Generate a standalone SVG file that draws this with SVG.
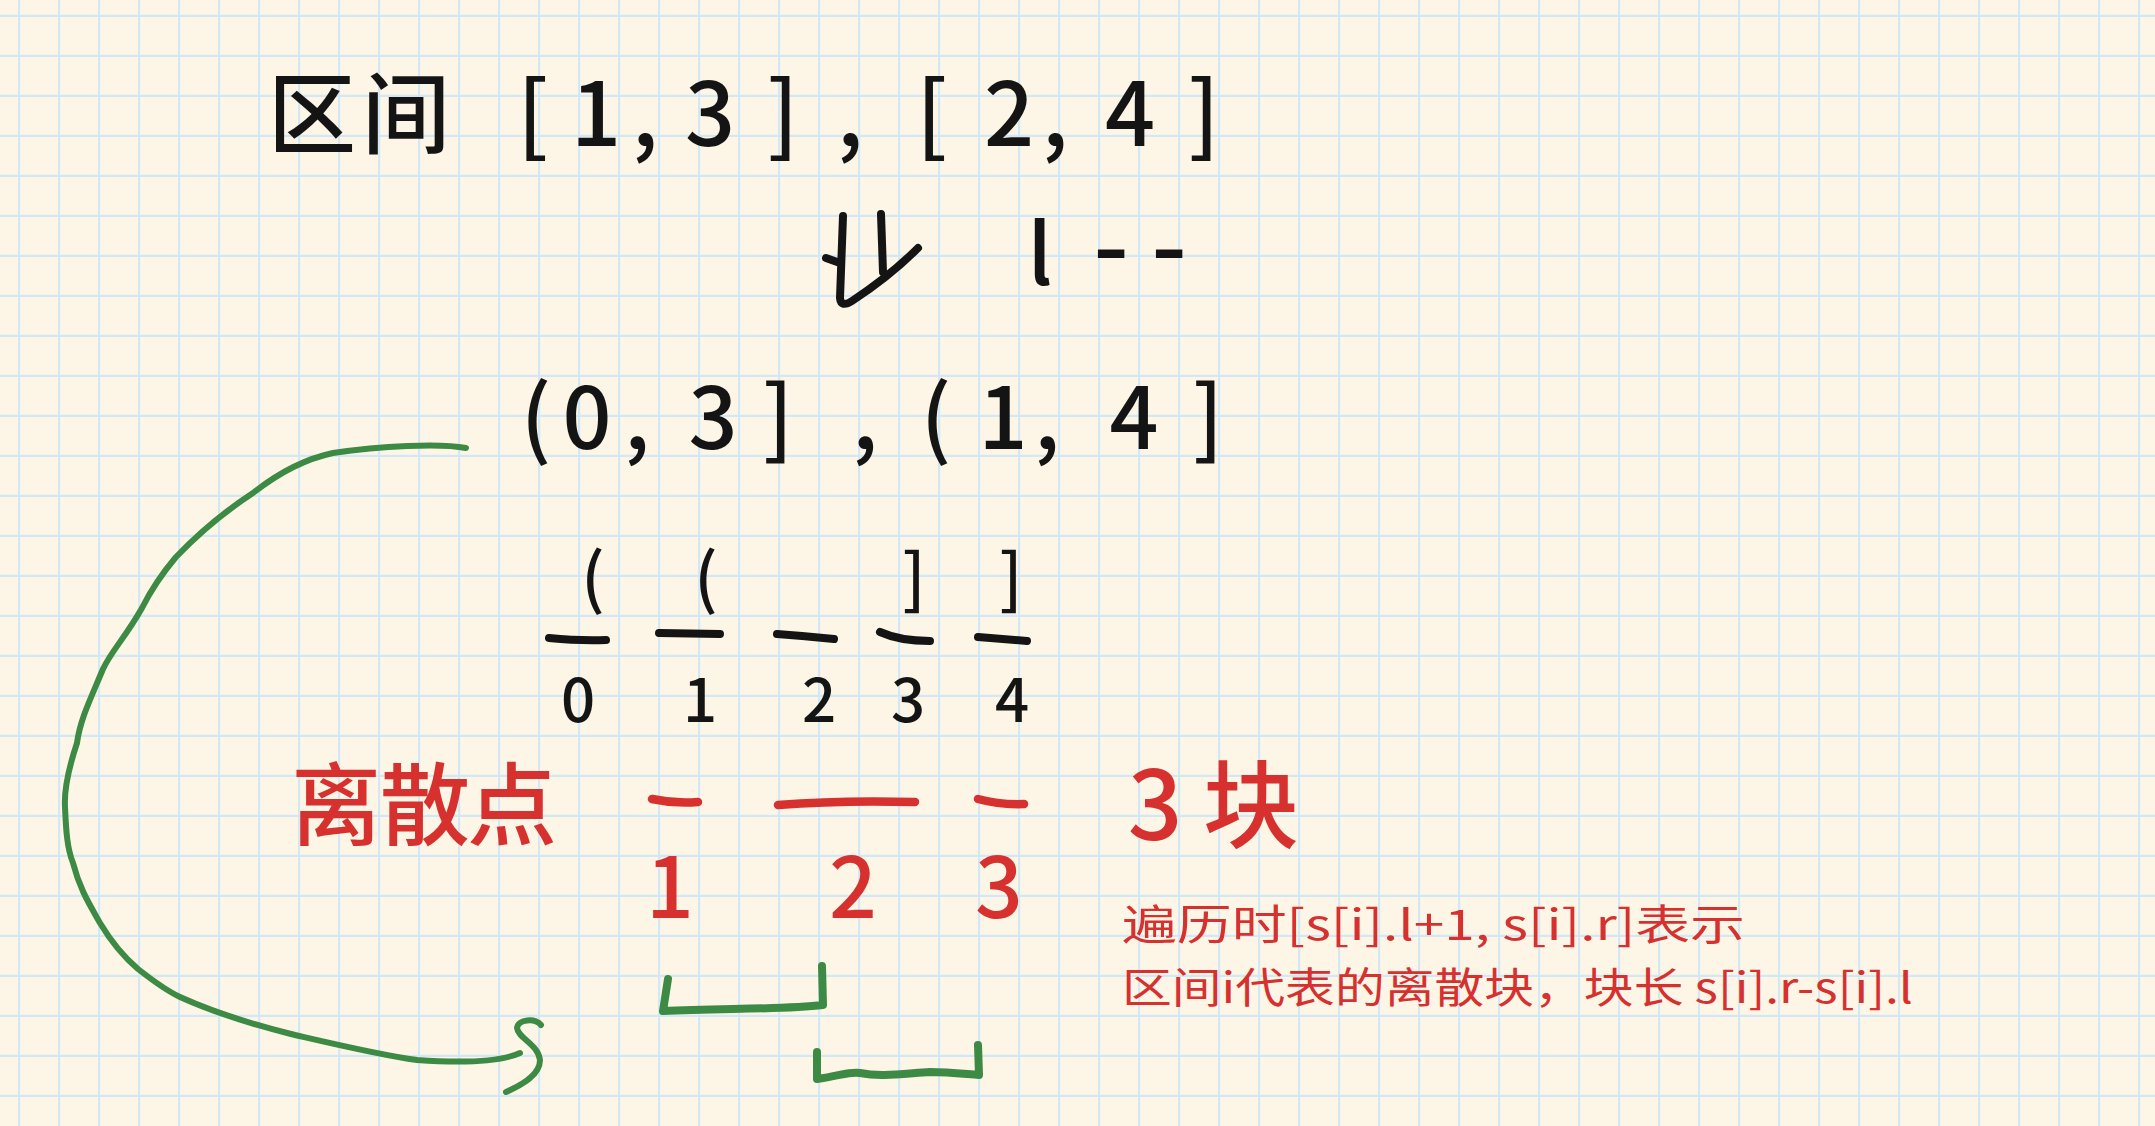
<svg xmlns="http://www.w3.org/2000/svg" width="2155" height="1126" viewBox="0 0 2155 1126">
<defs>
<pattern id="grid" x="0" y="0" width="40" height="40" patternUnits="userSpaceOnUse">
<rect x="0" y="0" width="40" height="40" fill="#fdf6e6"/>
<rect x="18" y="0" width="2.2" height="40" fill="#d2e8f6"/>
<rect x="0" y="14.8" width="40" height="2.2" fill="#d2e8f6"/>
</pattern>
<style>
.bk{fill:#141414;font-family:"Noto Sans CJK SC","Noto Sans",sans-serif;font-weight:500;text-anchor:middle}
.rd{fill:#d6312f;font-family:"Noto Sans CJK SC","Noto Sans",sans-serif;font-weight:500;text-anchor:middle}
.rdl{fill:#d6312f;font-family:"Noto Sans CJK SC","Noto Sans",sans-serif;font-weight:400}
.bar{fill:none;stroke:#141414;stroke-width:8;stroke-linecap:round;stroke-linejoin:round}
.rbar{fill:none;stroke:#d6312f;stroke-width:8.5;stroke-linecap:round;stroke-linejoin:round}
.gr{fill:none;stroke:#3d8a45;stroke-linecap:round;stroke-linejoin:round}
</style>
</defs>
<rect x="0" y="0" width="2155" height="1126" fill="url(#grid)"/>

<g id="original-intervals">
<text class="bk" font-size="88" x="312 406 470 533 596 645 710 783 815 850 890 932 1009 1055 1130 1204" y="146">区间 [1,3] , [2,4]</text>
</g>

<g id="transform-arrow">
<path class="bar" d="M843,216 L840,298 Q841,308 852,301 Q890,276 918,248 M881,214 L883,272 M826,258 L840,263"/>
<text class="bk" font-size="84" y="285"><tspan x="1040">l</tspan><tspan font-size="100" x="1111 1169" y="282">--</tspan></text>
</g>

<g id="shifted-intervals">
<text class="bk" font-size="86" x="536 587 637 675 713 778 820 865 900 936 1003 1047 1090 1134 1208" y="449">(0, 3] , (1, 4]</text>
</g>

<g id="number-line">
<text class="bk" font-size="66" x="593 706 860 914 1011" y="602">(( ]]</text>
<path class="bar" d="M549,638 Q580,641 606,640 M659,633 L720,634 M777,634 Q805,636 834,639 M880,632 Q900,641 930,641 M978,637 L1027,641"/>
<text class="bk" font-size="60" x="578 700 819 908 1012" y="722">01234</text>
</g>

<g id="discrete-points">
<text class="rd" font-size="90" x="336 425 512" y="838">离散点</text>
<path class="rbar" d="M652,799 Q675,804 698,802 M778,805 Q840,800 915,802 M978,799 Q1000,805 1024,804"/>
<text class="rd" font-size="84" x="670 853 999" y="918">123</text>
</g>

<g id="block-count">
<text class="rd" font-size="96" x="1155 1251" y="840">3块</text>
</g>

<g id="note">
<text class="rdl" font-size="42" x="1122" y="940" textLength="623" lengthAdjust="spacingAndGlyphs">遍历时[s[i].l+1, s[i].r]表示</text>
<text class="rdl" font-size="42" x="1122" y="1003" textLength="791" lengthAdjust="spacingAndGlyphs">区间i代表的离散块，块长 s[i].r-s[i].l</text>
</g>

<g id="connectors">
<path class="gr" stroke-width="6" d="M466,448 C440,443 380,446 333,453 C300,460 272,478 253,493 C230,508 200,532 176,557 C160,576 150,592 142,608 C125,638 112,650 103,669 C90,700 80,720 77,743 C68,770 64,790 65,807 C66,830 67,848 73,863 C80,890 90,905 100,923 C112,943 125,958 138,969 C152,980 165,990 180,997 C220,1015 255,1025 291,1034 C330,1043 380,1055 417,1060 C460,1063 500,1062 520,1053"/>
<path class="gr" stroke-width="6" d="M541,1025 C535,1018 518,1019 517,1028 C518,1038 538,1044 540,1060 C540,1075 522,1085 506,1092"/>
<path class="gr" stroke-width="8" d="M668,979 L663,1011 C720,1008 780,1010 823,1005 L822,966"/>
<path class="gr" stroke-width="8" d="M817,1052 L817,1079 C840,1076 850,1071 860,1073 C880,1077 900,1074 930,1072 C950,1072 965,1074 979,1075 L978,1045"/>
</g>
</svg>
